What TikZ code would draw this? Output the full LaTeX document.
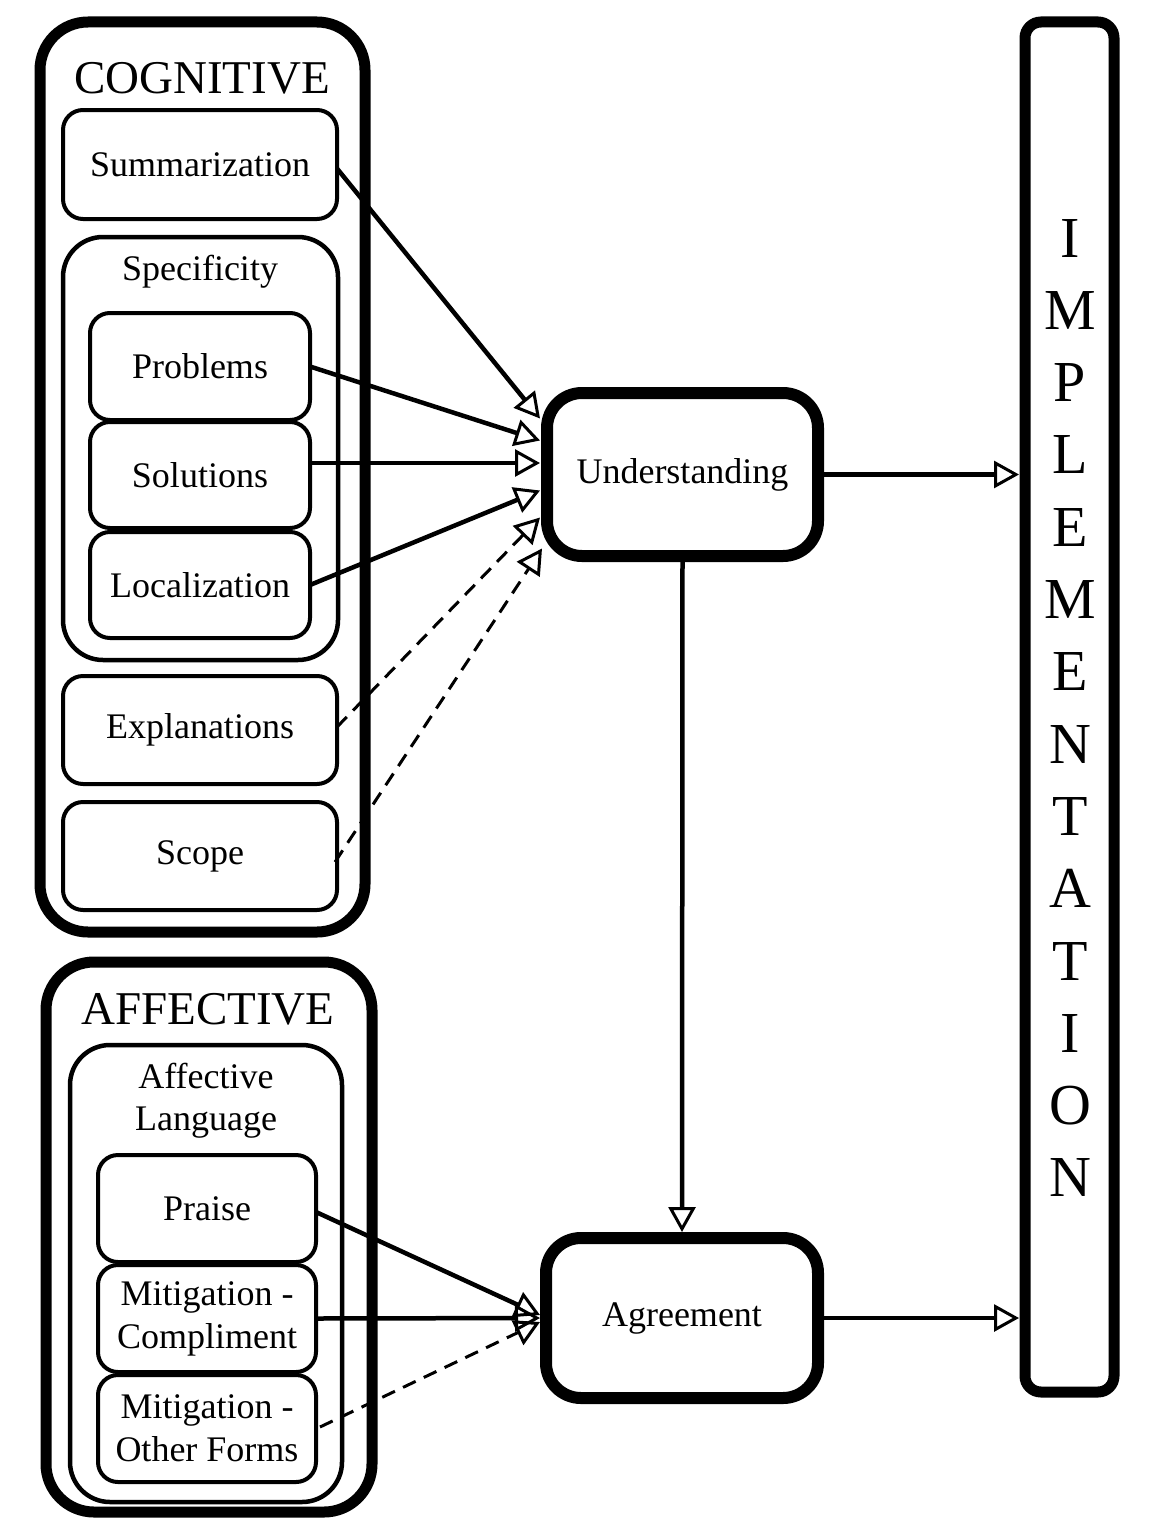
\documentclass[tikz,border=0pt]{standalone}
\usepackage{fontspec}
\setmainfont{Liberation Serif}
\usetikzlibrary{arrows.meta,calc}
\begin{document}
\begin{tikzpicture}[x=1pt,y=-1pt,
  box/.style={draw=black, inner sep=0pt, outer sep=0pt},
  group/.style={box, line width=11pt, rounded corners=48pt},
  sub/.style={box, line width=4.5pt, rounded corners=40pt},
  item/.style={box, line width=4pt, rounded corners=20pt, font=\fontsize{36}{43}\selectfont, align=center},
  target/.style={box, line width=12pt, rounded corners=35pt, font=\fontsize{36}{43}\selectfont},
  impbox/.style={box, line width=11pt, rounded corners=16pt},
  ttl/.style={font=\fontsize{47}{56}\selectfont, inner sep=0pt},
  lbl/.style={font=\fontsize{36}{43}\selectfont, inner sep=0pt, align=center},
  arr/.style={line width=4.5pt, -{Triangle[open, length=25pt, width=27pt, line width=3pt]}},
  darr/.style={arr, line width=3pt, dash pattern=on 14pt off 9pt},
]
\useasboundingbox (0,0) rectangle (1154,1520);

% COGNITIVE group
\node[group, minimum width=325pt, minimum height=910pt] (cog) at (202.5,477) {};
\node[ttl] (cogt) at (202,78) {COGNITIVE};
\node[item, minimum width=274pt, minimum height=109pt] (summ) at (200,164.5) {Summarization};
\node[sub, minimum width=275pt, minimum height=423pt] (spec) at (200.5,448.5) {};
\node[lbl] (spect) at (200,272) {Specificity};
\node[item, minimum width=220pt, minimum height=107pt] (prob) at (200,366.5) {Problems};
\node[item, minimum width=220pt, minimum height=106pt] (sol) at (200,475) {Solutions};
\node[item, minimum width=220pt, minimum height=106pt] (loc) at (200,585) {Localization};
\node[item, minimum width=274pt, minimum height=108pt] (expl) at (200,730) {Explanations};
\node[item, minimum width=274pt, minimum height=108pt] (scope) at (200,856) {Scope};

% AFFECTIVE group
\node[group, minimum width=326pt, minimum height=550pt] (aff) at (209,1237) {};
\node[ttl] (afft) at (208,1009) {AFFECTIVE};
\node[sub, minimum width=272pt, minimum height=457pt] (afl) at (206,1273.5) {};
\node[lbl] (aflt) at (206,1101) {Affective\\[-1pt]Language};
\node[item, minimum width=218pt, minimum height=107pt] (praise) at (207,1208.5) {Praise};
\node[item, minimum width=218pt, minimum height=107pt] (comp) at (207,1318.5) {Mitigation -\\Compliment};
\node[item, minimum width=218pt, minimum height=107pt] (other) at (207,1428.5) {Mitigation -\\Other Forms};

% Targets
\node[target, minimum width=271pt, minimum height=163pt] (und) at (682.5,474.5) {Understanding};
\node[target, minimum width=272pt, minimum height=160pt] (agr) at (682,1318) {Agreement};
\node[impbox, minimum width=89pt, minimum height=1370pt] (imp) at (1069.5,707) {};
\node[font=\fontsize{58}{72.3}\selectfont, inner sep=0pt, align=center] (impt) at (1070,708)
  {I\\M\\P\\L\\E\\M\\E\\N\\T\\A\\T\\I\\O\\N};

% Arrows to Understanding
\draw[arr] ($(summ.east)+(0,4)$) -- ($(und.west)+(-7,-56)$);
\draw[arr] ($(prob.east)+(0,0)$) -- ($(und.west)+(-7,-34)$);
\draw[arr] ($(sol.east)+(0,-12)$) -- ($(und.west)+(-7,-11.5)$);
\draw[arr] ($(loc.east)+(0,0)$) -- ($(und.west)+(-7,16)$);
\draw[darr] ($(expl.east)+(0,-3)$) -- ($(und.west)+(-7,43)$);
\draw[darr] ($(scope.east)+(-2,6)$) -- ($(und.west)+(-5,74)$);

% Arrows to Agreement
\draw[arr] ($(praise.east)+(0,3.5)$) -- ($(agr.west)+(-6,-3)$);
\draw[arr] ($(comp.east)+(0,0)$) -- ($(agr.west)+(-6,0)$);
\draw[darr] ($(other.east)+(4,-1.5)$) -- ($(agr.west)+(-6,4)$);

% Other arrows
\draw[arr] (und.south) -- ($(agr.north)+(0,-6)$);
\draw[arr] (und.east) -- ($(und.east -| imp.west)+(-6,0)$);
\draw[arr] (agr.east) -- ($(agr.east -| imp.west)+(-6,0)$);
\end{tikzpicture}
\end{document}
